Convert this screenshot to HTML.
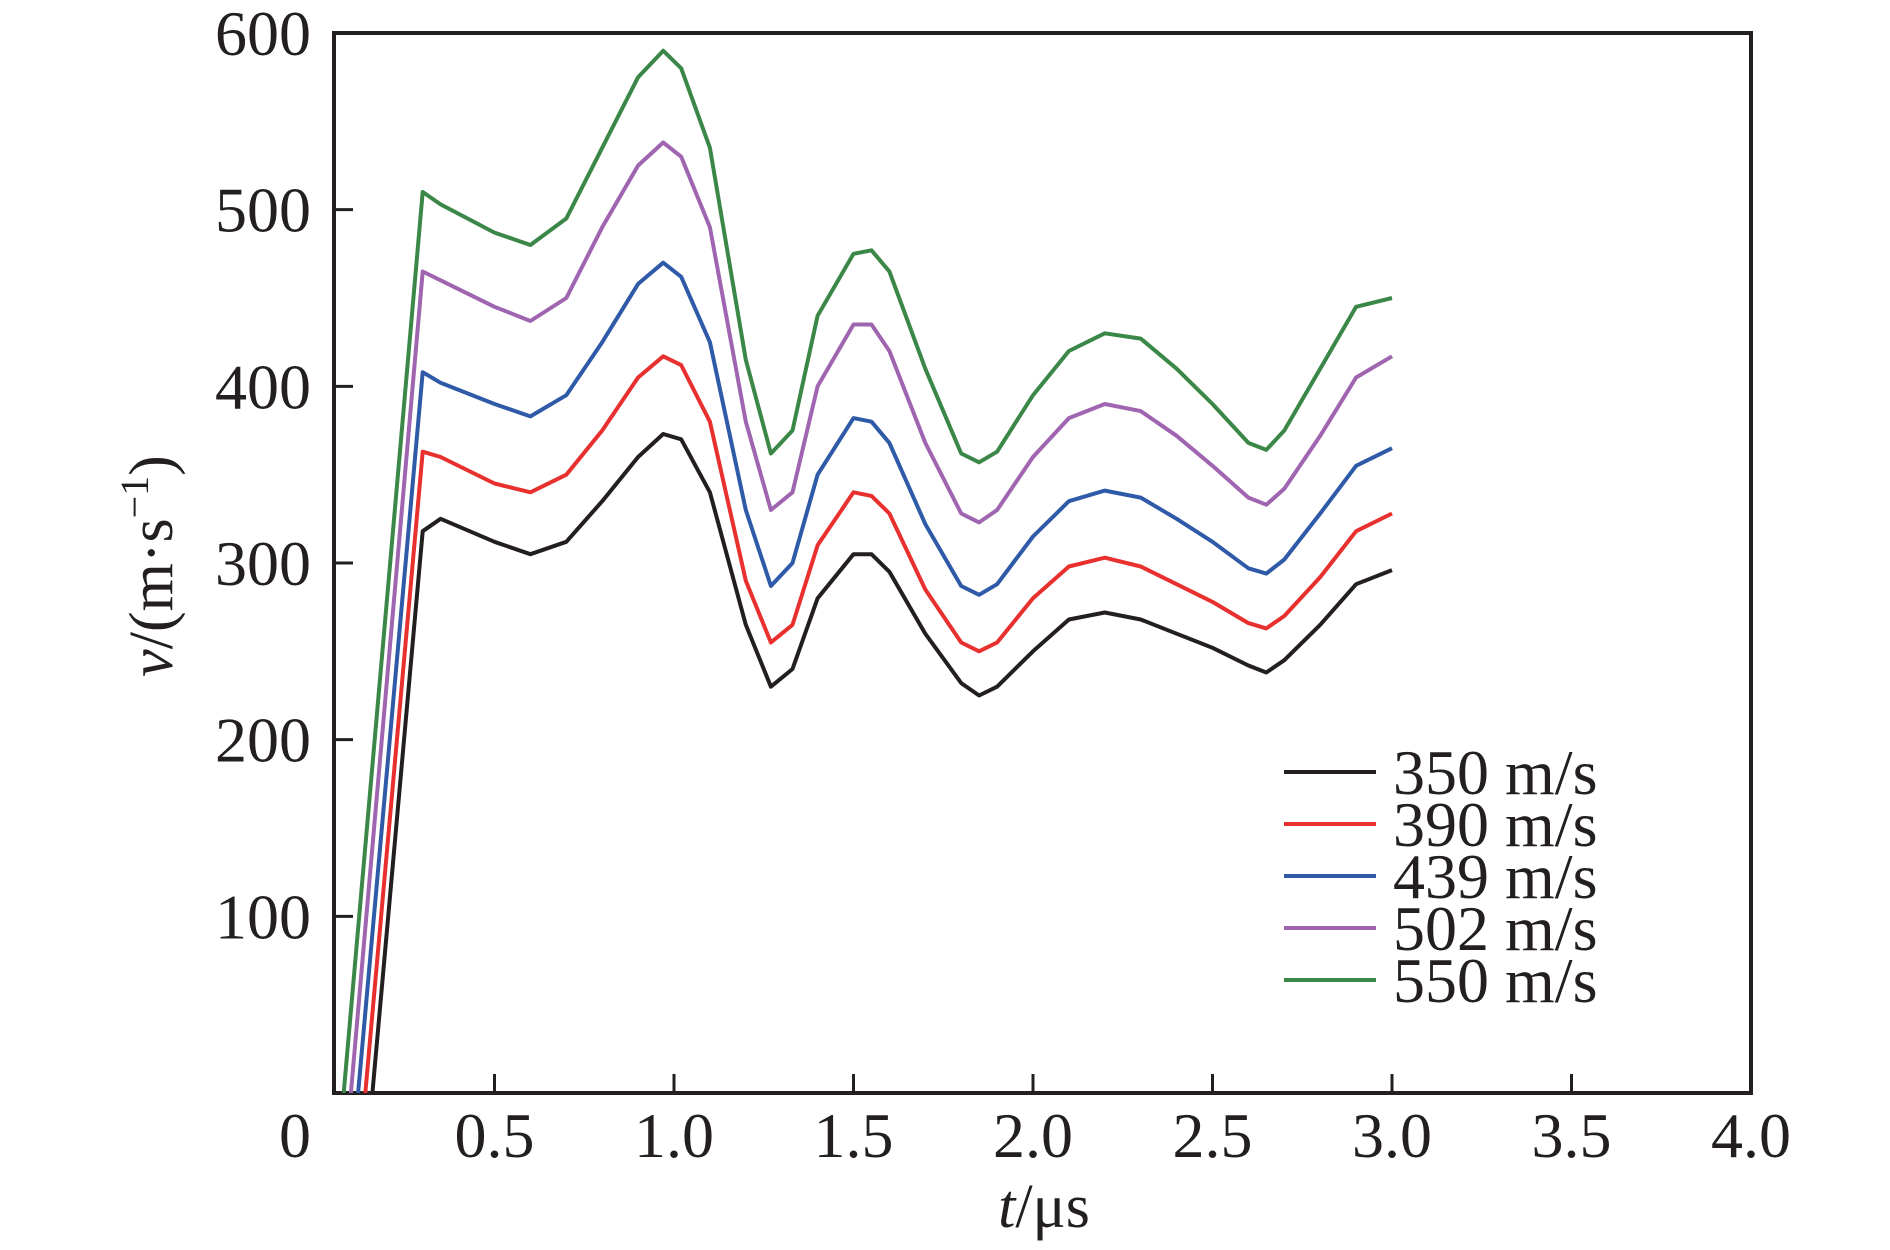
<!DOCTYPE html>
<html><head><meta charset="utf-8"><style>
html,body{margin:0;padding:0;background:#fff;}
svg{display:block;}
text{font-family:"Liberation Serif",serif;fill:#231f20;}
</style></head><body>
<svg id="chart" width="1890" height="1250" viewBox="0 0 1890 1250">
<g id="axes"></g>
<g id="series"></g>
<g id="legend"></g>
<text x="172" y="566" font-size="62" text-anchor="middle" transform="rotate(-90 172 566)"><tspan font-style="italic">v</tspan>/(m·s<tspan dy="-24" font-size="40">−1</tspan><tspan dy="24">)</tspan></text>
<text x="1044" y="1227" font-size="62" text-anchor="middle"><tspan font-style="italic">t</tspan>/μs</text>
</svg>
<script>
const xTicks=[0.5,1.0,1.5,2.0,2.5,3.0,3.5,4.0];
const xTickLabels=["0.5","1.0","1.5","2.0","2.5","3.0","3.5","4.0"];
const yTicks=[100,200,300,400,500,600];
const yTickLabels=["100","200","300","400","500","600"];
const seriesNames=["350 m/s","390 m/s","439 m/s","502 m/s","550 m/s"];
const seriesColors=["#231f20","#e8312f","#2f5aa8","#a065b0","#3b8748"];
const startTimes=[0.16,0.14,0.12,0.10,0.08];
const times=[0.3,0.35,0.5,0.6,0.7,0.8,0.9,0.97,1.02,1.1,1.2,1.27,1.33,1.4,1.5,1.55,1.6,1.7,1.8,1.85,1.9,2.0,2.1,2.2,2.3,2.4,2.5,2.6,2.65,2.7,2.8,2.9,3.0];
const v350=[318,325,312,305,312,335,360,373,370,340,265,230,240,280,305,305,295,260,232,225,230,250,268,272,268,260,252,242,238,245,265,288,296];
const v390=[363,360,345,340,350,375,405,417,412,380,290,255,265,310,340,338,328,285,255,250,255,280,298,303,298,288,278,266,263,270,292,318,328];
const v439=[408,402,390,383,395,425,458,470,462,425,330,287,300,350,382,380,368,322,287,282,288,315,335,341,337,325,312,297,294,302,328,355,365];
const v502=[465,460,445,437,450,490,525,538,530,490,380,330,340,400,435,435,420,368,328,323,330,360,382,390,386,372,355,337,333,342,372,405,417];
const v550=[510,503,487,480,495,535,575,590,580,535,415,362,375,440,475,477,465,410,362,357,363,395,420,430,427,410,390,368,364,375,410,445,450];
const allValues=[v350,v390,v439,v502,v550];

const NS="http://www.w3.org/2000/svg";
const L=334,R=1751,T=33,B=1093;
function xs(t){return 315+359*t;}
function ys(v){return B-(B-T)*v/600;}
function mk(tag,attrs,parent){const e=document.createElementNS(NS,tag);for(const k in attrs)e.setAttribute(k,attrs[k]);parent.appendChild(e);return e;}
const axes=document.getElementById('axes');
const frame=mk('rect',{x:L,y:T,width:R-L,height:B-T,fill:'none',stroke:'#231f20','stroke-width':4},axes);


xTicks.forEach((t,i)=>{
  const x=xs(t);
  if(t<4){const tk=mk('line',{x1:x,x2:x,y1:B,y2:B-19,stroke:'#231f20','stroke-width':3},axes);
  
  }
  const lb=mk('text',{x:x,y:B+64,'font-size':64,'text-anchor':'middle'},axes);
  lb.textContent=xTickLabels[i];
  
  
});
const zl=mk('text',{x:295,y:B+64,'font-size':64,'text-anchor':'middle'},axes);
zl.textContent='0';


yTicks.forEach((v,i)=>{
  const y=ys(v);
  if(v<600){const tk=mk('line',{x1:L,x2:L+19,y1:y,y2:y,stroke:'#231f20','stroke-width':3},axes);
  
  }
  const lb=mk('text',{x:311,y:y+22,'font-size':64,'text-anchor':'end'},axes);
  lb.textContent=yTickLabels[i];
  
  
});
const sg=document.getElementById('series');
allValues.forEach((vals,s)=>{
  const pts=[[xs(startTimes[s]),ys(0)]];
  times.forEach((t,i)=>pts.push([xs(t),ys(vals[i])]));
  const p=mk('polyline',{points:pts.map(p=>p[0].toFixed(1)+','+p[1].toFixed(1)).join(' '),fill:'none',stroke:seriesColors[s],'stroke-width':4,'stroke-linejoin':'round'},sg);
  
  
});
const lg=document.getElementById('legend');
seriesNames.forEach((n,i)=>{
  const y=772+52*i;
  const ln=mk('line',{x1:1284,x2:1376,y1:y,y2:y,stroke:seriesColors[i],'stroke-width':4},lg);
  
  
  const tx=mk('text',{x:1393,y:y+22,'font-size':64},lg);
  tx.textContent=n;
  
  
});
</script>
</body></html>
